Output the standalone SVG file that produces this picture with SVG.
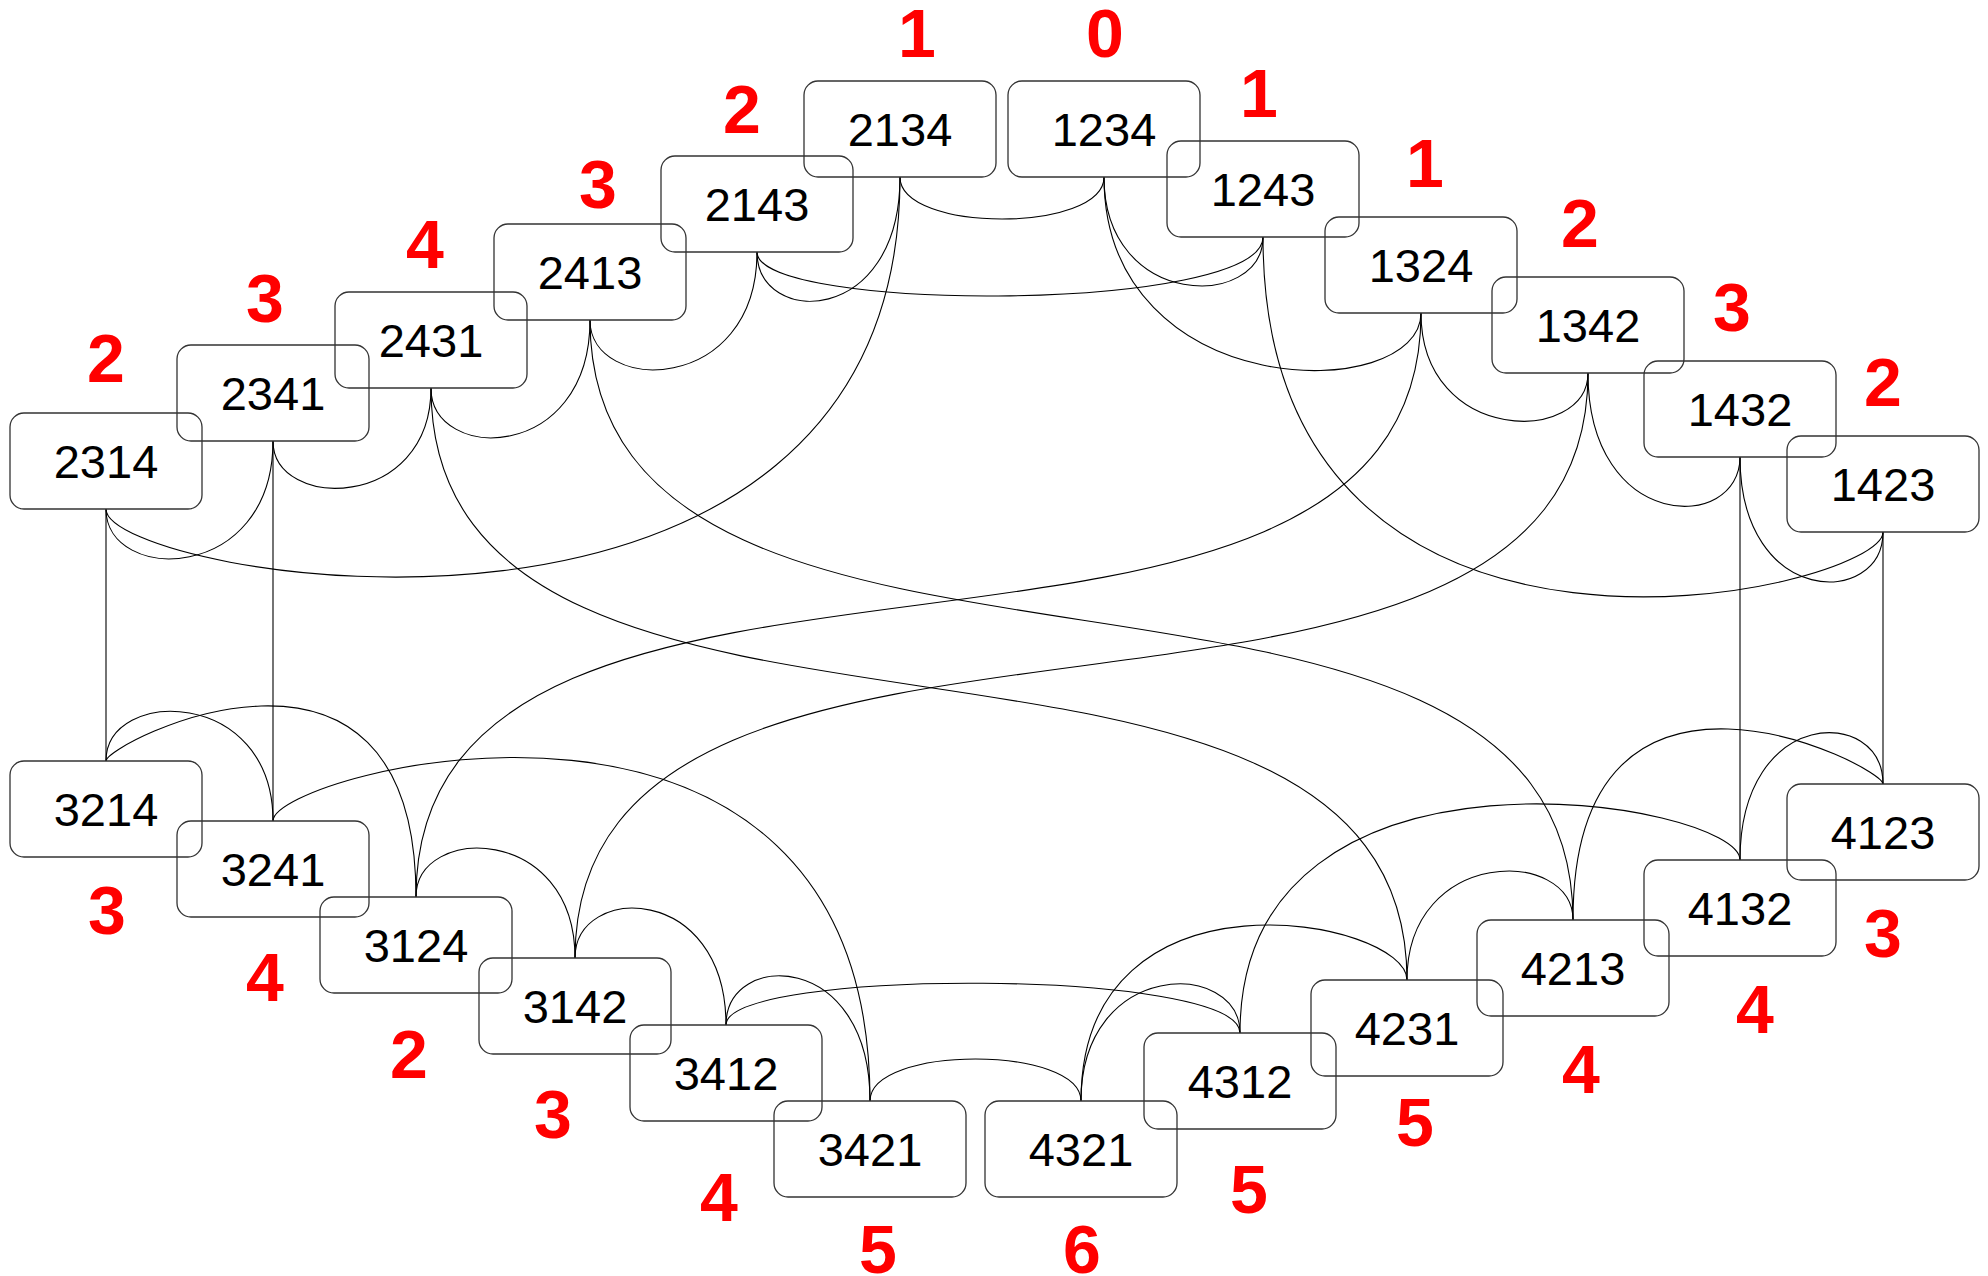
<svg xmlns="http://www.w3.org/2000/svg" width="1988" height="1276" viewBox="0 0 1988 1276">
<style>
.bg{fill:#ffffff}
.box{fill:none;stroke:#333333;stroke-width:1.3}
.lbl{font-family:"Liberation Sans",Arial,sans-serif;font-size:47px;fill:#000000;text-anchor:middle}
.rank{font-family:"Liberation Sans",Arial,sans-serif;font-size:68px;font-weight:bold;fill:#ff0000;text-anchor:middle}
.edge{fill:none;stroke:#000000;stroke-width:1.1}
</style>
<rect class="bg" x="0" y="0" width="1988" height="1276"/>
<g id="connectors">
<path class="edge" d="M900,177 C900,233 1104,233 1104,177"/>
<path class="edge" d="M900,177 C900,327 757,327 757,252"/>
<path class="edge" d="M757,252 C757,313 1263,313 1263,237"/>
<path class="edge" d="M1104,177 C1104,310 1263,310 1263,237"/>
<path class="edge" d="M757,252 C757,395 590,395 590,320"/>
<path class="edge" d="M590,320 C590,463 431,463 431,388"/>
<path class="edge" d="M431,388 C431,511 273,511 273,441"/>
<path class="edge" d="M273,441 C273,584 106,584 106,509"/>
<path class="edge" d="M900,177 C900,714 106,579 106,509"/>
<path class="edge" d="M1104,177 C1104,405 1421,405 1421,313"/>
<path class="edge" d="M1263,237 C1263,733 1883,591 1883,532"/>
<path class="edge" d="M1421,313 C1421,445 1588,445 1588,373"/>
<path class="edge" d="M1588,373 C1588,533 1740,533 1740,457"/>
<path class="edge" d="M1740,457 C1740,608 1883,608 1883,532"/>
<path class="edge" d="M106,761 C106,687 273,687 273,821"/>
<path class="edge" d="M106,761 C106,743 416,587 416,897"/>
<path class="edge" d="M273,821 C273,771 870,616 870,1101"/>
<path class="edge" d="M416,897 C416,824 575,824 575,958"/>
<path class="edge" d="M575,958 C575,883 726,883 726,1025"/>
<path class="edge" d="M726,1025 C726,950 870,950 870,1101"/>
<path class="edge" d="M726,1025 C726,968 1240,968 1240,1033"/>
<path class="edge" d="M870,1101 C870,1045 1081,1045 1081,1101"/>
<path class="edge" d="M1081,1101 C1081,959 1240,959 1240,1033"/>
<path class="edge" d="M1081,1101 C1081,857 1407,919 1407,980"/>
<path class="edge" d="M1240,1033 C1240,716 1740,802 1740,860"/>
<path class="edge" d="M1407,980 C1407,847 1573,847 1573,920"/>
<path class="edge" d="M1573,920 C1573,610 1883,766 1883,784"/>
<path class="edge" d="M1740,860 C1740,706 1883,706 1883,784"/>
<path class="edge" d="M590,320 C590,769 1573,471 1573,920"/>
<path class="edge" d="M431,388 C431,837 1407,536 1407,980"/>
<path class="edge" d="M1421,313 C1421,766 416,444 416,897"/>
<path class="edge" d="M1588,373 C1588,824 575,508 575,958"/>
<path class="edge" d="M106,509 V761"/>
<path class="edge" d="M273,441 V821"/>
<path class="edge" d="M1740,457 V860"/>
<path class="edge" d="M1883,532 V784"/>
</g>
<g id="n2134"><rect class="box" x="804" y="81" width="192" height="96" rx="14"/><text class="lbl" x="900" y="146">2134</text><text class="rank" x="917" y="57">1</text></g>
<g id="n1234"><rect class="box" x="1008" y="81" width="192" height="96" rx="14"/><text class="lbl" x="1104" y="146">1234</text><text class="rank" x="1105" y="57">0</text></g>
<g id="n1243"><rect class="box" x="1167" y="141" width="192" height="96" rx="14"/><text class="lbl" x="1263" y="206">1243</text><text class="rank" x="1259" y="117">1</text></g>
<g id="n2143"><rect class="box" x="661" y="156" width="192" height="96" rx="14"/><text class="lbl" x="757" y="221">2143</text><text class="rank" x="742" y="133">2</text></g>
<g id="n1324"><rect class="box" x="1325" y="217" width="192" height="96" rx="14"/><text class="lbl" x="1421" y="282">1324</text><text class="rank" x="1425" y="187">1</text></g>
<g id="n2413"><rect class="box" x="494" y="224" width="192" height="96" rx="14"/><text class="lbl" x="590" y="289">2413</text><text class="rank" x="598" y="208">3</text></g>
<g id="n1342"><rect class="box" x="1492" y="277" width="192" height="96" rx="14"/><text class="lbl" x="1588" y="342">1342</text><text class="rank" x="1580" y="247">2</text></g>
<g id="n2431"><rect class="box" x="335" y="292" width="192" height="96" rx="14"/><text class="lbl" x="431" y="357">2431</text><text class="rank" x="425" y="268">4</text></g>
<g id="n2341"><rect class="box" x="177" y="345" width="192" height="96" rx="14"/><text class="lbl" x="273" y="410">2341</text><text class="rank" x="265" y="322">3</text></g>
<g id="n1432"><rect class="box" x="1644" y="361" width="192" height="96" rx="14"/><text class="lbl" x="1740" y="426">1432</text><text class="rank" x="1732" y="331">3</text></g>
<g id="n2314"><rect class="box" x="10" y="413" width="192" height="96" rx="14"/><text class="lbl" x="106" y="478">2314</text><text class="rank" x="106" y="382">2</text></g>
<g id="n1423"><rect class="box" x="1787" y="436" width="192" height="96" rx="14"/><text class="lbl" x="1883" y="501">1423</text><text class="rank" x="1883" y="406">2</text></g>
<g id="n3214"><rect class="box" x="10" y="761" width="192" height="96" rx="14"/><text class="lbl" x="106" y="826">3214</text><text class="rank" x="107" y="934">3</text></g>
<g id="n4123"><rect class="box" x="1787" y="784" width="192" height="96" rx="14"/><text class="lbl" x="1883" y="849">4123</text><text class="rank" x="1883" y="957">3</text></g>
<g id="n3241"><rect class="box" x="177" y="821" width="192" height="96" rx="14"/><text class="lbl" x="273" y="886">3241</text><text class="rank" x="265" y="1001">4</text></g>
<g id="n4132"><rect class="box" x="1644" y="860" width="192" height="96" rx="14"/><text class="lbl" x="1740" y="925">4132</text><text class="rank" x="1755" y="1033">4</text></g>
<g id="n3124"><rect class="box" x="320" y="897" width="192" height="96" rx="14"/><text class="lbl" x="416" y="962">3124</text><text class="rank" x="409" y="1078">2</text></g>
<g id="n4213"><rect class="box" x="1477" y="920" width="192" height="96" rx="14"/><text class="lbl" x="1573" y="985">4213</text><text class="rank" x="1581" y="1093">4</text></g>
<g id="n3142"><rect class="box" x="479" y="958" width="192" height="96" rx="14"/><text class="lbl" x="575" y="1023">3142</text><text class="rank" x="553" y="1138">3</text></g>
<g id="n4231"><rect class="box" x="1311" y="980" width="192" height="96" rx="14"/><text class="lbl" x="1407" y="1045">4231</text><text class="rank" x="1415" y="1146">5</text></g>
<g id="n3412"><rect class="box" x="630" y="1025" width="192" height="96" rx="14"/><text class="lbl" x="726" y="1090">3412</text><text class="rank" x="719" y="1221">4</text></g>
<g id="n4312"><rect class="box" x="1144" y="1033" width="192" height="96" rx="14"/><text class="lbl" x="1240" y="1098">4312</text><text class="rank" x="1249" y="1213">5</text></g>
<g id="n3421"><rect class="box" x="774" y="1101" width="192" height="96" rx="14"/><text class="lbl" x="870" y="1166">3421</text><text class="rank" x="878" y="1273">5</text></g>
<g id="n4321"><rect class="box" x="985" y="1101" width="192" height="96" rx="14"/><text class="lbl" x="1081" y="1166">4321</text><text class="rank" x="1082" y="1273">6</text></g>
</svg>
